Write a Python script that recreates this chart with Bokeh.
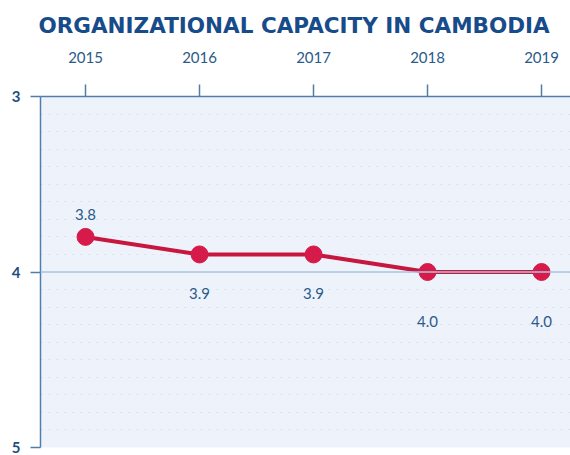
from bokeh.plotting import figure
from bokeh.models import Range1d, FixedTicker, Span, ColumnDataSource, LabelSet, Title
from bokeh.core.properties import value
from bokeh.embed import file_html
from bokeh.resources import INLINE

years = [2015, 2016, 2017, 2018, 2019]
scores = [3.8, 3.9, 3.9, 4.0, 4.0]
score_labels = ["3.8", "3.9", "3.9", "4.0", "4.0"]
label_offsets = [22, -39, -39, -49, -49]  # pixel offsets of value labels (style)
y_ticks = [3, 4, 5]
title_text = "ORGANIZATIONAL CAPACITY IN CAMBODIA"

AXIS = "#4f7eab"
TEXT = "#2b5a8a"
RED = "#c8173f"

p = figure(width=570, height=455, output_backend="svg", toolbar_location=None,
           x_axis_location="above",
           x_range=Range1d(2014.605, 2019.254), y_range=Range1d(5, 3),
           min_border_left=40, min_border_right=0, min_border_top=95, min_border_bottom=8)

p.title = Title(text=title_text, align="left", offset=-2, text_font="DejaVu Sans",
                text_font_style="bold", text_font_size="21.5px", text_color="#174b8a",
                standoff=21)

p.background_fill_color = "#eef3fb"
p.border_fill_color = "white"
p.outline_line_color = None

# axes
p.xaxis.ticker = FixedTicker(ticks=years)
p.xaxis.major_label_overrides = {y: str(y) for y in years}
p.xaxis.minor_tick_line_color = None
p.xaxis.major_tick_in = 0
p.xaxis.major_tick_out = 12
p.xaxis.major_label_standoff = 22
p.xaxis.axis_line_color = AXIS
p.xaxis.axis_line_width = 1.5
p.xaxis.major_tick_line_color = AXIS
p.xaxis.major_tick_line_width = 1.5
p.xaxis.major_label_text_font = "Lato"
p.xaxis.major_label_text_font_size = "15px"
p.xaxis.major_label_text_color = TEXT

p.yaxis.ticker = FixedTicker(ticks=y_ticks)
p.yaxis.minor_tick_line_color = None
p.yaxis.major_tick_in = 0
p.yaxis.major_tick_out = 10
p.yaxis.major_label_standoff = 10
p.yaxis.axis_line_color = AXIS
p.yaxis.axis_line_width = 1.5
p.yaxis.major_tick_line_color = AXIS
p.yaxis.major_tick_line_width = 1.5
p.yaxis.major_label_text_font = "Lato"
p.yaxis.major_label_text_font_style = "bold"
p.yaxis.major_label_text_font_size = "15px"
p.yaxis.major_label_text_color = "#1f4f80"

# faint dotted grid
p.xgrid.grid_line_color = None
p.ygrid.ticker = FixedTicker(ticks=[3 + i * 0.1 for i in range(1, 20)])
p.ygrid.grid_line_color = "#d8e1ee"
p.ygrid.grid_line_dash = "2 6"
p.ygrid.grid_line_width = 1

p.add_layout(Span(location=4, dimension="width", line_color="#a8c4de", line_width=1.5))

src = ColumnDataSource(data=dict(x=years, y=scores, t=score_labels, off=label_offsets))
p.line("x", "y", source=src, line_color=RED, line_width=4)
p.scatter("x", "y", source=src, size=17, fill_color="#d61b4a", line_color="#d61b4a")

p.add_layout(LabelSet(x="x", y="y", text="t", y_offset="off", source=src,
                      text_align="center", text_baseline="middle",
                      text_font=value("Lato"), text_font_size="15px", text_color=TEXT))

open("out.html", "w").write(file_html(p, INLINE))
